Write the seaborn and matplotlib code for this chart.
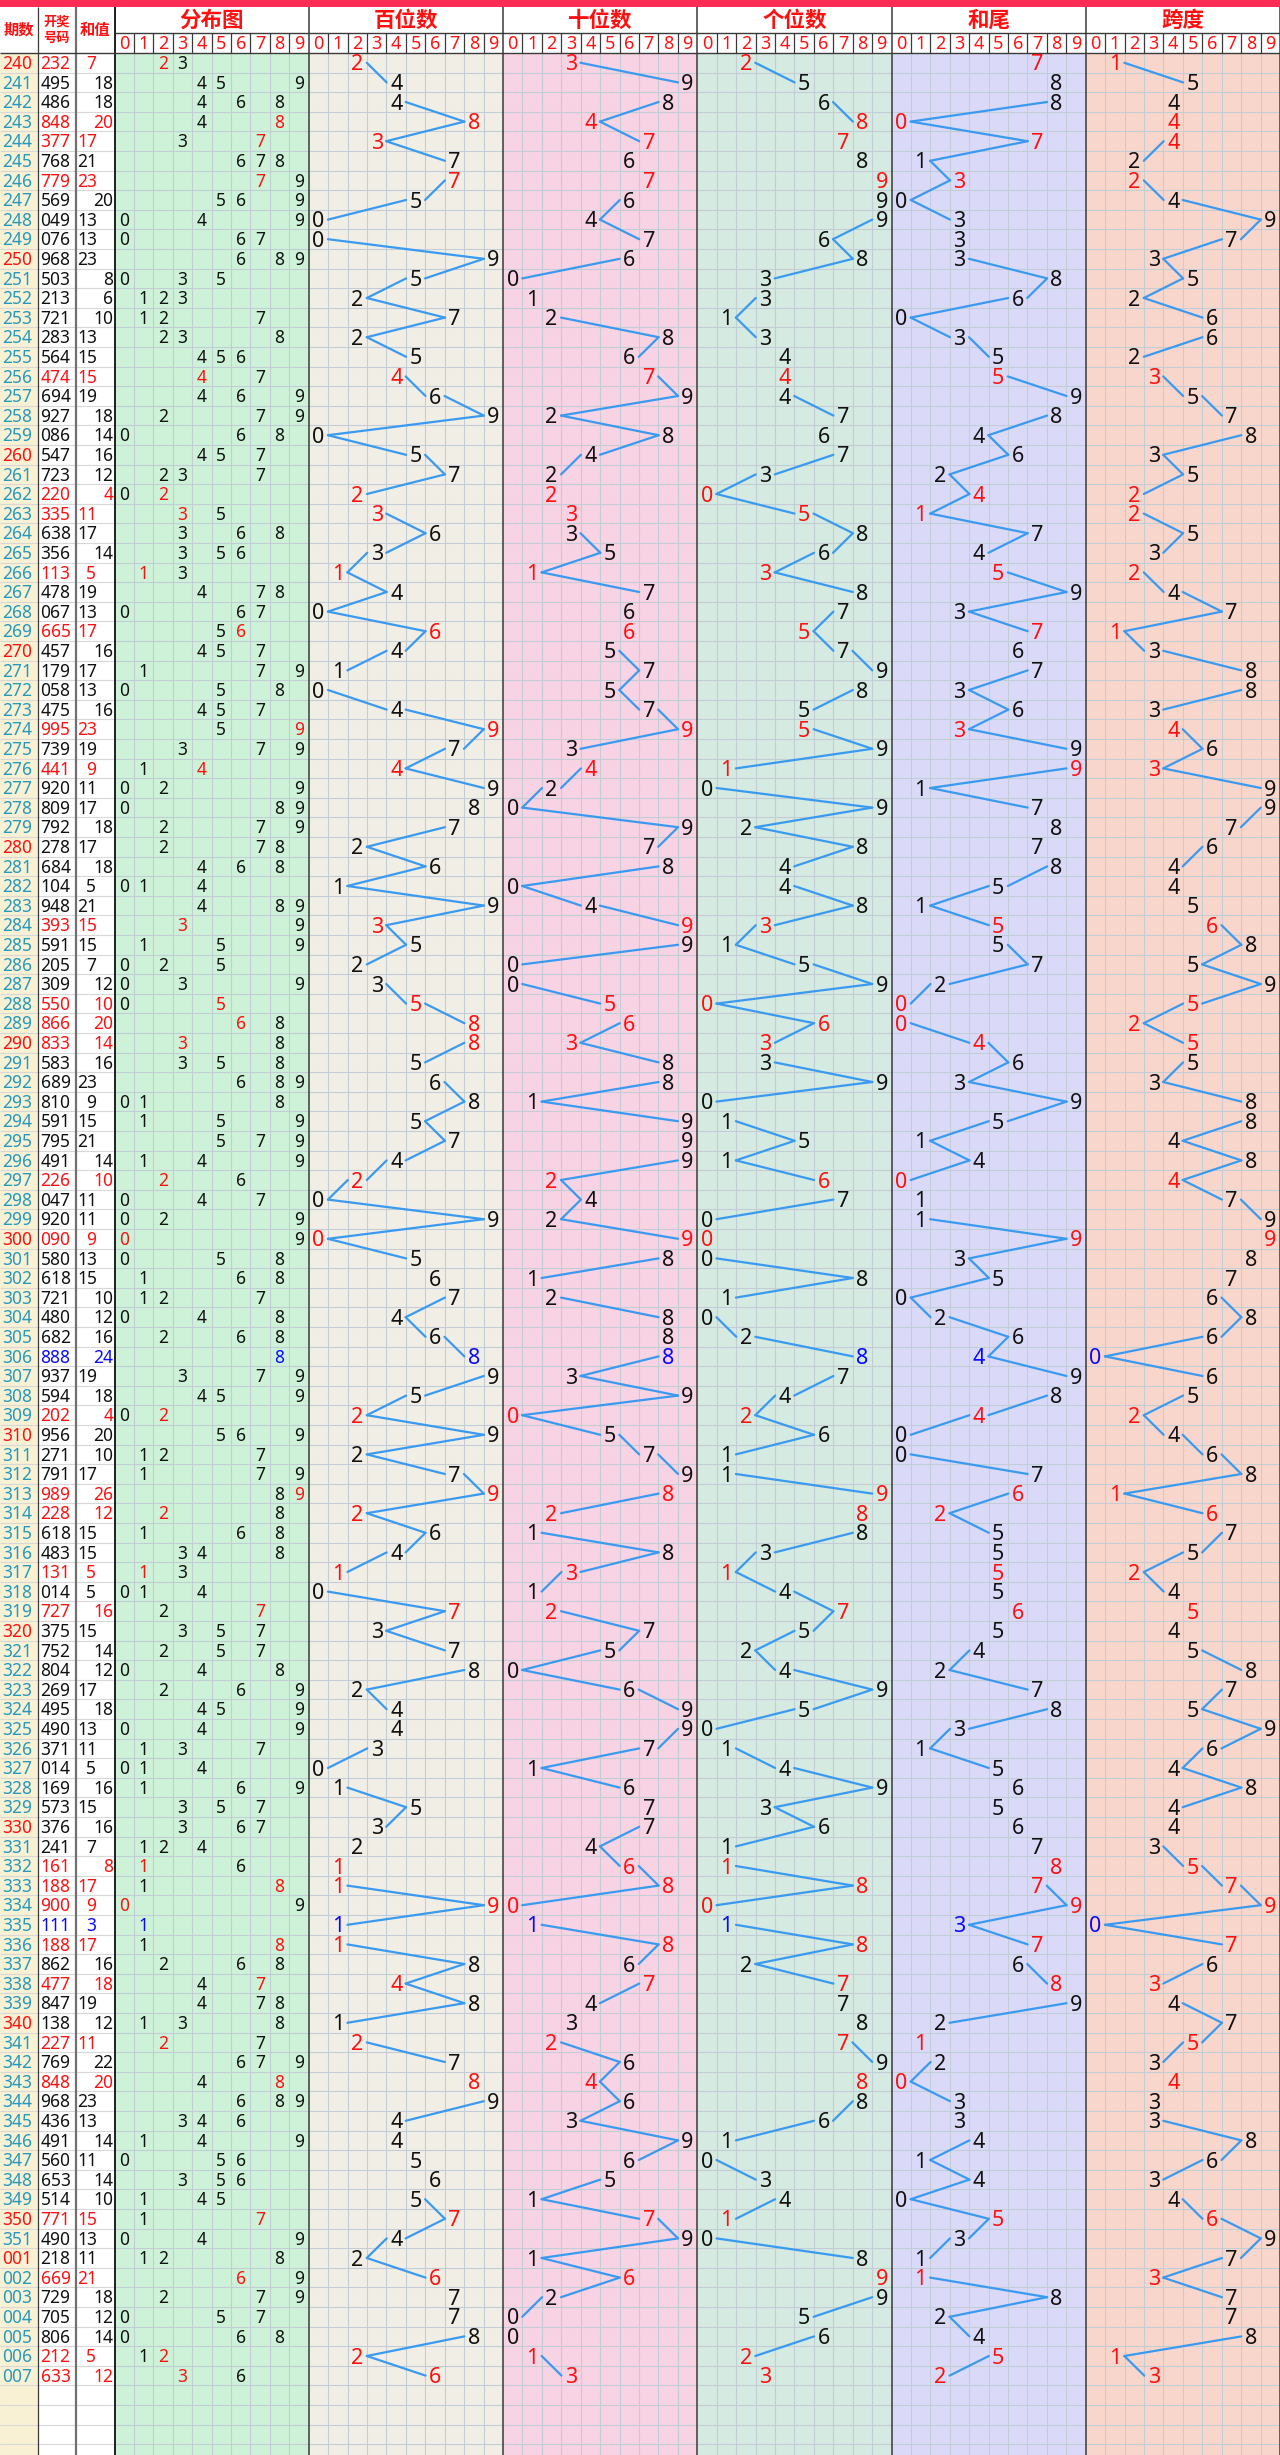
import math
import matplotlib
matplotlib.use("Agg")
import matplotlib.pyplot as plt
from matplotlib.patches import Rectangle
import pandas as pd
import seaborn as sns

periods = ("240 241 242 243 244 245 246 247 248 249 "
           "250 251 252 253 254 255 256 257 258 259 "
           "260 261 262 263 264 265 266 267 268 269 "
           "270 271 272 273 274 275 276 277 278 279 "
           "280 281 282 283 284 285 286 287 288 289 "
           "290 291 292 293 294 295 296 297 298 299 "
           "300 301 302 303 304 305 306 307 308 309 "
           "310 311 312 313 314 315 316 317 318 319 "
           "320 321 322 323 324 325 326 327 328 329 "
           "330 331 332 333 334 335 336 337 338 339 "
           "340 341 342 343 344 345 346 347 348 349 "
           "350 351 001 002 003 004 005 006 007").split()

numbers = ("232 495 486 848 377 768 779 569 049 076 "
           "968 503 213 721 283 564 474 694 927 086 "
           "547 723 220 335 638 356 113 478 067 665 "
           "457 179 058 475 995 739 441 920 809 792 "
           "278 684 104 948 393 591 205 309 550 866 "
           "833 583 689 810 591 795 491 226 047 920 "
           "090 580 618 721 480 682 888 937 594 202 "
           "956 271 791 989 228 618 483 131 014 727 "
           "375 752 804 269 495 490 371 014 169 573 "
           "376 241 161 188 900 111 188 862 477 847 "
           "138 227 769 848 968 436 491 560 653 514 "
           "771 490 218 669 729 705 806 212 633").split()

sums = [7, 18, 18, 20, 17, 21, 23, 20, 13, 13,
        23, 8, 6, 10, 13, 15, 15, 19, 18, 14,
        16, 12, 4, 11, 17, 14, 5, 19, 13, 17,
        16, 17, 13, 16, 23, 19, 9, 11, 17, 18,
        17, 18, 5, 21, 15, 15, 7, 12, 10, 20,
        14, 16, 23, 9, 15, 21, 14, 10, 11, 11,
        9, 13, 15, 10, 12, 16, 24, 19, 18, 4,
        20, 10, 17, 26, 12, 15, 15, 5, 5, 16,
        15, 14, 12, 17, 18, 13, 11, 5, 16, 15,
        16, 7, 8, 17, 9, 3, 17, 16, 18, 19,
        12, 11, 22, 20, 23, 13, 14, 11, 14, 10,
        15, 13, 11, 21, 18, 12, 14, 5, 12]

red_periods = ["240", "250", "260", "270", "280", "290", "300",
               "310", "320", "330", "340", "350", "001"]

section_titles = ["分布图", "百位数", "十位数", "个位数", "和尾", "跨度"]
section_bg = ["#cdf2d8", "#f1eee6", "#f8d3e3", "#d5eae0", "#dadaf8", "#f9d6cb"]

sns.set_theme(style="white")
plt.rcParams['font.family'] = ['Noto Sans', 'Noto Sans CJK SC', 'DejaVu Sans']

W, H = 1280, 2455
TOP = 53.0
ROW_H = 19.6
X_NUM, X_SUM, X_DIST = 37.5, 76.0, 114.5
SEC_W = (W - X_DIST) / 6
CELL_W = SEC_W / 10
RED, BLUE, BLACK = "#ff1010", "#0a0aff", "#111111"
TEAL = "#2599be"
GRID = "#c3cdd5"
DARK = "#3a3a3a"
LINE = "#3a9af0"


def row_y(i):
    return TOP + (i + 0.5) * ROW_H


def cell_x(sec, d):
    return X_DIST + sec * SEC_W + (d + 0.5) * CELL_W


def base_off(pt):
    # baseline offset so digits sit centred on the row
    return 0.357 * pt / 0.72


digits = [[int(c) for c in n] for n in numbers]
kind_color = {3: BLACK, 2: RED, 1: BLUE}
row_color = [kind_color[len(set(d))] for d in digits]

trend = {
    1: [d[0] for d in digits],
    2: [d[1] for d in digits],
    3: [d[2] for d in digits],
    4: [s % 10 for s in sums],
    5: [max(d) - min(d) for d in digits],
}

fig = plt.figure(figsize=(W / 100, H / 100), dpi=100)
ax = fig.add_axes([0, 0, 1, 1])

# backgrounds
ax.add_patch(Rectangle((0, 0), W, 7, color="#fe2c55", lw=0, zorder=0))
ax.add_patch(Rectangle((0, TOP), X_NUM, H - TOP, color="#f8f1d4", lw=0, zorder=0))
for sec in range(6):
    ax.add_patch(Rectangle((X_DIST + sec * SEC_W, TOP), SEC_W, H - TOP,
                           color=section_bg[sec], lw=0, zorder=0))

# grid
n_grid = int(math.ceil((H - TOP) / ROW_H))
ys = [TOP + k * ROW_H for k in range(1, n_grid + 1)]
ax.hlines(ys, 0, X_DIST, color="#d8d8d8", lw=0.8, zorder=1)
ax.hlines(ys, X_DIST, W, color=GRID, lw=0.8, zorder=1)
for sec in range(6):
    for j in range(1, 10):
        x = X_DIST + sec * SEC_W + j * CELL_W
        ax.vlines(x, TOP, H, color=GRID, lw=0.8, zorder=1)
        ax.vlines(x, 33, TOP, color=DARK, lw=0.9, zorder=2)

for sec in range(7):
    ax.vlines(X_DIST + sec * SEC_W, 7, H, color=DARK, lw=1.1, zorder=3)
ax.vlines(X_NUM, 7, H, color=DARK, lw=0.9, zorder=3)
ax.vlines(X_SUM, 7, H, color="#707070", lw=1.6, zorder=3)
ax.vlines(X_DIST, 7, H, color="#111111", lw=1.1, zorder=3)
ax.hlines(33, X_DIST, W, color=DARK, lw=1.0, zorder=3)
ax.hlines(TOP, 0, W, color=DARK, lw=1.0, zorder=3)

# header
cjk = ['Noto Sans CJK SC', 'DejaVu Sans']
for sec, title in enumerate(section_titles):
    ax.text(X_DIST + (sec + 0.5) * SEC_W, 20.5, title, ha="center", va="center",
            fontsize=15.5, fontweight="bold", color=RED, family=cjk)
    for d in range(10):
        ax.text(cell_x(sec, d), 43 + base_off(13), str(d), ha="center",
                va="baseline", fontsize=13, color=RED)
ax.text(X_NUM / 2, 30, "期数", ha="center", va="center", fontsize=11,
        fontweight="bold", color=RED, family=cjk)
ax.text((X_NUM + X_SUM) / 2, 30, "开奖\n号码", ha="center", va="center",
        fontsize=9.5, fontweight="bold", color=RED, family=cjk, linespacing=1.25)
ax.text((X_SUM + X_DIST) / 2, 30, "和值", ha="center", va="center",
        fontsize=11, fontweight="bold", color=RED, family=cjk)

# left columns
fs_left = 12.5
for i, (p, n, s) in enumerate(zip(periods, numbers, sums)):
    yb = row_y(i) + base_off(fs_left)
    ax.text(2, yb, p, ha="left", va="baseline", fontsize=fs_left,
            color=RED if p in red_periods else TEAL)
    ax.text(X_NUM + 3, yb, n, ha="left", va="baseline", fontsize=fs_left,
            color=row_color[i])
    if s % 2:
        xs = X_SUM + 1.5 if s >= 10 else X_SUM + 10
        ax.text(xs, yb, str(s), ha="left", va="baseline", fontsize=fs_left,
                color=row_color[i])
    else:
        ax.text(X_DIST - 1, yb, str(s), ha="right", va="baseline",
                fontsize=fs_left, color=row_color[i])

    # distribution
    for d in sorted(set(digits[i])):
        cnt = digits[i].count(d)
        c = BLACK if cnt == 1 else (RED if cnt == 2 else BLUE)
        ax.text(cell_x(0, d), yb, str(d), ha="center", va="baseline",
                fontsize=fs_left, color=c)

# trend columns, lines join the side of each digit
fs_tr = 15.5
GAP = 9.5
seg_rows = []
seg_id = 0
for sec, vals in trend.items():
    for i, v in enumerate(vals):
        ax.text(cell_x(sec, v), row_y(i) + base_off(fs_tr), str(v), ha="center",
                va="baseline", fontsize=fs_tr, color=row_color[i], zorder=5)
    for i in range(len(vals) - 1):
        v1, v2 = vals[i], vals[i + 1]
        if abs(v2 - v1) < 2:
            continue
        sgn = 1 if v2 > v1 else -1
        seg_rows.append({"x": cell_x(sec, v1) + sgn * GAP, "y": row_y(i),
                         "seg": seg_id})
        seg_rows.append({"x": cell_x(sec, v2) - sgn * GAP, "y": row_y(i + 1),
                         "seg": seg_id})
        seg_id += 1

segs = pd.DataFrame(seg_rows)
sns.lineplot(data=segs, x="x", y="y", units="seg", estimator=None, sort=False,
             color=LINE, linewidth=1.6, ax=ax, zorder=4)

ax.set_xlim(0, W)
ax.set_ylim(H, 0)
ax.axis("off")
fig.savefig("out.png", dpi=100)
